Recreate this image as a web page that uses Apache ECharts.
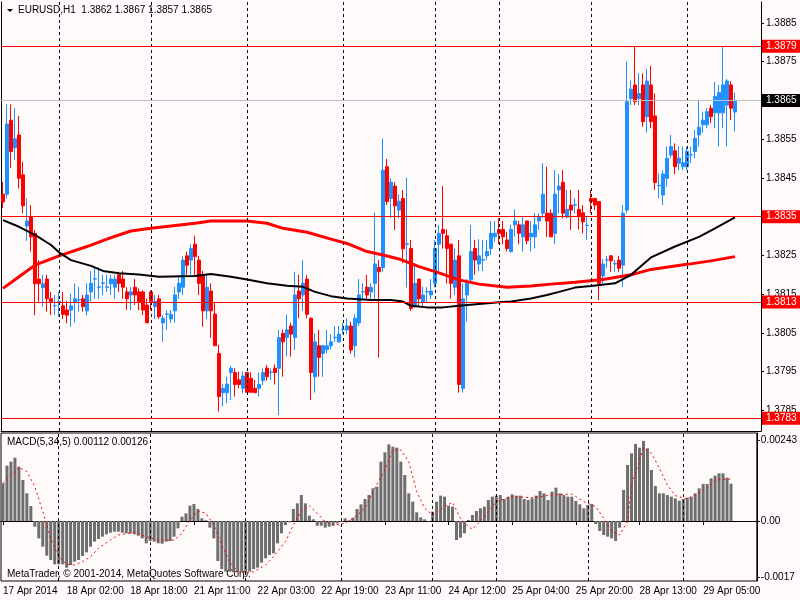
<!DOCTYPE html>
<html>
<head>
<meta charset="utf-8">
<script src="https://cdn.jsdelivr.net/npm/echarts@6/dist/echarts.min.js"></script>
<style>
html,body{margin:0;padding:0;background:#FFFAFA;}
#chart{width:800px;height:600px;}
</style>
</head>
<body>
<div id="chart"></div>
<script>
// EURUSD H1 bars, oldest first
var opens = [
1.38408,1.38408,1.38599,1.38528,1.38561,1.38458,1.38326,1.38349,1.38307,1.38189,
1.38167,1.38189,1.38138,1.38120,1.38130,1.38120,1.38109,1.38109,1.38129,1.38135,
1.38138,1.38107,1.38156,1.38189,1.38168,1.38178,1.38168,1.38177,1.38168,1.38200,
1.38189,1.38156,1.38148,1.38168,1.38156,1.38156,1.38122,1.38156,1.38118,1.38138,
1.38076,1.38098,1.38086,1.38107,1.38156,1.38168,1.38249,1.38238,1.38279,1.38238,
1.38200,1.38107,1.38158,1.38099,1.37997,1.37896,1.37896,1.37948,1.37948,1.37929,
1.37907,1.37948,1.37933,1.37907,1.37907,1.37927,1.37959,1.37948,1.37959,1.37959,
1.38049,1.38038,1.38068,1.38038,1.38158,1.38148,1.38189,1.38088,1.37937,1.38017,
1.37997,1.38007,1.38017,1.38038,1.38027,1.38058,1.38058,1.38068,1.38017,1.38076,
1.38156,1.38168,1.38156,1.38178,1.38219,1.38219,1.38479,1.38397,1.38429,1.38367,
1.38397,1.38279,1.38268,1.38118,1.38189,1.38129,1.38156,1.38148,1.38178,1.38279,
1.38317,1.38301,1.38279,1.38168,1.38249,1.37907,1.38148,1.38187,1.38268,1.38228,
1.38238,1.38249,1.38268,1.38298,1.38317,1.38317,1.38290,1.38260,1.38329,1.38329,
1.38298,1.38339,1.38298,1.38298,1.38339,1.38359,1.38359,1.38359,1.38307,1.38419,
1.38439,1.38349,1.38380,1.38380,1.38369,1.38360,1.38327,1.38397,1.38397,1.38389,
1.38197,1.38238,1.38249,1.38228,1.38238,1.38225,1.38367,1.38655,1.38690,1.38655,
1.38690,1.38608,1.38690,1.38610,1.38430,1.38406,1.38449,1.38509,1.38520,1.38488,
1.38479,1.38479,1.38509,1.38518,1.38561,1.38587,1.38587,1.38630,1.38618,1.38618,
1.38618,1.38638,1.38690,1.38620
];
var highs = [
1.38439,1.38640,1.38640,1.38630,1.38610,1.38492,1.38397,1.38380,1.38316,1.38238,
1.38200,1.38200,1.38156,1.38148,1.38156,1.38156,1.38133,1.38152,1.38178,1.38169,
1.38148,1.38178,1.38210,1.38217,1.38219,1.38200,1.38200,1.38200,1.38200,1.38208,
1.38210,1.38168,1.38168,1.38189,1.38165,1.38160,1.38139,1.38160,1.38148,1.38148,
1.38096,1.38109,1.38109,1.38169,1.38200,1.38249,1.38260,1.38279,1.38301,1.38249,
1.38210,1.38200,1.38178,1.38129,1.38019,1.37918,1.37937,1.37965,1.37959,1.37950,
1.37950,1.37950,1.37948,1.37929,1.37948,1.37959,1.37967,1.37959,1.37969,1.38058,
1.38058,1.38098,1.38076,1.38208,1.38200,1.38238,1.38200,1.38090,1.38049,1.38058,
1.38019,1.38058,1.38047,1.38068,1.38068,1.38076,1.38088,1.38079,1.38098,1.38189,
1.38178,1.38200,1.38178,1.38360,1.38238,1.38552,1.38499,1.38449,1.38439,1.38408,
1.38419,1.38451,1.38290,1.38230,1.38190,1.38169,1.38168,1.38189,1.38290,1.38329,
1.38429,1.38317,1.38280,1.38268,1.38290,1.38178,1.38189,1.38329,1.38290,1.38292,
1.38290,1.38290,1.38339,1.38339,1.38346,1.38339,1.38311,1.38329,1.38369,1.38339,
1.38349,1.38340,1.38339,1.38359,1.38359,1.38488,1.38479,1.38369,1.38470,1.38460,
1.38470,1.38419,1.38419,1.38397,1.38419,1.38380,1.38350,1.38419,1.38399,1.38390,
1.38240,1.38249,1.38250,1.38238,1.38249,1.38380,1.38750,1.38701,1.38790,1.38720,
1.38720,1.38731,1.38739,1.38668,1.38462,1.38470,1.38531,1.38561,1.38539,1.38531,
1.38531,1.38531,1.38531,1.38574,1.38649,1.38621,1.38630,1.38638,1.38698,1.38690,
1.38790,1.38705,1.38700,1.38670
];
var lows = [
1.38372,1.38397,1.38476,1.38496,1.38423,1.38359,1.38288,1.38260,1.38096,1.38131,
1.38118,1.38105,1.38096,1.38096,1.38092,1.38086,1.38075,1.38066,1.38077,1.38105,
1.38105,1.38096,1.38131,1.38138,1.38138,1.38148,1.38156,1.38148,1.38138,1.38156,
1.38138,1.38109,1.38109,1.38122,1.38109,1.38096,1.38076,1.38109,1.38086,1.38086,
1.38027,1.38058,1.38076,1.38076,1.38138,1.38148,1.38200,1.38200,1.38200,1.38148,
1.38066,1.38086,1.38038,1.38017,1.37847,1.37860,1.37869,1.37877,1.37886,1.37907,
1.37894,1.37897,1.37896,1.37896,1.37886,1.37916,1.37927,1.37929,1.37917,1.37838,
1.37937,1.37989,1.37989,1.38006,1.38088,1.38107,1.38088,1.37877,1.37896,1.37937,
1.37937,1.37997,1.38007,1.38027,1.38025,1.38047,1.38047,1.37997,1.37987,1.38068,
1.38138,1.38138,1.38138,1.38138,1.37987,1.38208,1.38380,1.38346,1.38316,1.38346,
1.38230,1.38167,1.38107,1.38115,1.38118,1.38118,1.38129,1.38138,1.38167,1.38210,
1.38268,1.38178,1.38138,1.38148,1.37896,1.37896,1.38079,1.38178,1.38200,1.38210,
1.38210,1.38238,1.38251,1.38285,1.38279,1.38279,1.38260,1.38258,1.38298,1.38279,
1.38260,1.38279,1.38260,1.38268,1.38316,1.38346,1.38298,1.38298,1.38279,1.38359,
1.38346,1.38346,1.38316,1.38359,1.38317,1.38307,1.38290,1.38359,1.38367,1.38135,
1.38178,1.38217,1.38208,1.38208,1.38208,1.38169,1.38359,1.38638,1.38638,1.38638,
1.38582,1.38567,1.38578,1.38419,1.38397,1.38380,1.38427,1.38501,1.38460,1.38470,
1.38470,1.38470,1.38488,1.38501,1.38531,1.38567,1.38578,1.38591,1.38578,1.38531,
1.38578,1.38531,1.38599,1.38570
];
var closes = [
1.38388,1.38589,1.38518,1.38551,1.38449,1.38378,1.38339,1.38298,1.38177,1.38177,
1.38177,1.38138,1.38131,1.38121,1.38131,1.38098,1.38096,1.38120,1.38138,1.38136,
1.38118,1.38148,1.38178,1.38190,1.38169,1.38179,1.38169,1.38189,1.38189,1.38178,
1.38168,1.38138,1.38156,1.38148,1.38131,1.38109,1.38076,1.38131,1.38131,1.38092,
1.38088,1.38099,1.38098,1.38148,1.38178,1.38238,1.38225,1.38268,1.38247,1.38178,
1.38107,1.38168,1.38107,1.38017,1.37886,1.37907,1.37918,1.37959,1.37917,1.37917,
1.37939,1.37897,1.37897,1.37896,1.37917,1.37948,1.37937,1.37949,1.37948,1.38038,
1.38027,1.38058,1.38047,1.38148,1.38138,1.38178,1.38098,1.37948,1.38027,1.37987,
1.38017,1.38017,1.38027,1.38039,1.38047,1.38059,1.38068,1.38006,1.38088,1.38148,
1.38157,1.38148,1.38168,1.38228,1.38208,1.38470,1.38389,1.38439,1.38378,1.38390,
1.38267,1.38280,1.38113,1.38178,1.38138,1.38148,1.38157,1.38158,1.38268,1.38307,
1.38307,1.38268,1.38178,1.38238,1.37917,1.38138,1.38178,1.38260,1.38238,1.38249,
1.38239,1.38260,1.38307,1.38307,1.38307,1.38298,1.38268,1.38317,1.38339,1.38307,
1.38329,1.38288,1.38307,1.38329,1.38349,1.38408,1.38339,1.38298,1.38408,1.38429,
1.38359,1.38369,1.38367,1.38381,1.38350,1.38337,1.38328,1.38389,1.38380,1.38178,
1.38228,1.38239,1.38236,1.38229,1.38217,1.38359,1.38647,1.38679,1.38647,1.38668,
1.38595,1.38700,1.38595,1.38438,1.38431,1.38460,1.38501,1.38531,1.38479,1.38501,
1.38489,1.38519,1.38510,1.38552,1.38581,1.38599,1.38621,1.38608,1.38660,1.38670,
1.38690,1.38700,1.38630,1.38650
];

// moving averages read at [bar, price]
var maRed = [
[0,1.38165],[4,1.38195],[8,1.38225],[14,1.38249],[21,1.38273],[27,1.38296],[32,1.38313],
[37,1.38320],[42,1.38326],[48,1.38333],[52,1.38339],[61,1.38339],[66,1.38333],[70,1.38320],
[76,1.38310],[82,1.38292],[86,1.38281],[91,1.38260],[95,1.38251],[99,1.38241],[104,1.38221],
[109,1.38205],[114,1.38187],[119,1.38176],[126,1.38168],[132,1.38171],[137,1.38176],
[143,1.38181],[150,1.38188],[157,1.38200],[162,1.38214],[171,1.38227],[177,1.38236],[183,1.38247]
];
var maBlack = [
[0,1.38341],[4,1.38324],[8,1.38303],[12,1.38277],[14,1.38258],[17,1.38238],[22,1.38223],
[25,1.38210],[29,1.38204],[34,1.38201],[39,1.38195],[48,1.38197],[52,1.38202],[57,1.38195],
[61,1.38188],[66,1.38178],[71,1.38172],[75,1.38169],[78,1.38156],[82,1.38145],[86,1.38139],
[92,1.38135],[97,1.38135],[100,1.38131],[102,1.38120],[106,1.38116],[110,1.38116],[114,1.38120],
[119,1.38125],[124,1.38129],[127,1.38131],[132,1.38139],[136,1.38148],[139,1.38156],
[143,1.38167],[147,1.38171],[153,1.38178],[157,1.38200],[162,1.38245],[168,1.38273],
[174,1.38298],[178,1.38320],[183,1.38348]
];

// MACD(5,34,5) histogram per bar
var macd = [
0.00113,0.00166,0.00178,0.00190,0.00163,0.00123,0.00083,0.00045,-0.00017,-0.00052,
-0.00077,-0.00104,-0.00117,-0.00130,-0.00130,-0.00130,-0.00140,-0.00132,-0.00122,-0.00117,
-0.00105,-0.00094,-0.00077,-0.00062,-0.00054,-0.00047,-0.00040,-0.00035,-0.00032,-0.00032,
-0.00035,-0.00037,-0.00038,-0.00040,-0.00044,-0.00052,-0.00067,-0.00060,-0.00062,-0.00067,
-0.00068,-0.00062,-0.00060,-0.00047,-0.00022,0.00013,0.00023,0.00046,0.00051,0.00036,
0.00008,0.00002,-0.00020,-0.00052,-0.00120,-0.00144,-0.00152,-0.00152,-0.00154,-0.00152,
-0.00154,-0.00152,-0.00152,-0.00144,-0.00140,-0.00125,-0.00112,-0.00102,-0.00097,-0.00067,
-0.00037,-0.00012,-0.00004,0.00036,0.00053,0.00078,0.00053,0.00016,0.00005,-0.00014,
-0.00014,-0.00020,-0.00017,-0.00014,-0.00007,-0.00002,0.00008,0.00002,0.00010,0.00036,
0.00050,0.00066,0.00078,0.00098,0.00103,0.00178,0.00206,0.00230,0.00223,0.00220,
0.00178,0.00138,0.00083,0.00058,0.00026,0.00011,0.00005,-0.00001,0.00028,0.00058,
0.00076,0.00073,0.00046,0.00043,-0.00057,-0.00050,-0.00037,0.00003,0.00018,0.00030,
0.00038,0.00043,0.00063,0.00073,0.00076,0.00078,0.00066,0.00073,0.00080,0.00076,
0.00076,0.00066,0.00063,0.00068,0.00076,0.00090,0.00083,0.00063,0.00088,0.00100,
0.00083,0.00078,0.00073,0.00073,0.00060,0.00050,0.00038,0.00048,0.00051,-0.00009,
-0.00030,-0.00042,-0.00047,-0.00052,-0.00060,-0.00020,0.00093,0.00168,0.00203,0.00231,
0.00220,0.00240,0.00218,0.00153,0.00105,0.00083,0.00083,0.00078,0.00073,0.00068,
0.00061,0.00066,0.00070,0.00073,0.00083,0.00098,0.00111,0.00111,0.00128,0.00136,
0.00143,0.00143,0.00130,0.00112
];
// signal line read at [bar, value]
var signal = [
[0,0.00113],[3,0.00148],[4,0.00161],[6,0.00148],[8,0.00103],[10,0.00028],[12,-0.00052],
[14,-0.00107],[16,-0.00130],[18,-0.00132],[20,-0.00122],[22,-0.00107],[24,-0.00082],
[27,-0.00057],[29,-0.00042],[33,-0.00034],[36,-0.00047],[39,-0.00057],[43,-0.00057],
[45,-0.00037],[47,0.00003],[49,0.00030],[51,0.00023],[53,-0.00012],[55,-0.00072],
[57,-0.00122],[59,-0.00152],[61,-0.00157],[63,-0.00152],[66,-0.00132],[68,-0.00107],
[71,-0.00062],[73,-0.00012],[75,0.00030],[77,0.00046],[79,0.00023],[81,-0.00002],
[83,-0.00012],[86,-0.00007],[88,0.00008],[91,0.00038],[93,0.00088],[96,0.00153],
[98,0.00213],[100,0.00213],[102,0.00178],[104,0.00088],[106,0.00038],[108,0.00018],
[111,0.00043],[113,0.00056],[115,0.00008],[117,-0.00017],[118,-0.00025],[121,0.00013],
[124,0.00058],[128,0.00073],[133,0.00070],[138,0.00078],[143,0.00081],[146,0.00058],
[149,0.00043],[151,0.00008],[153,-0.00030],[155,-0.00042],[157,-0.00002],[158,0.00108],
[161,0.00218],[163,0.00203],[165,0.00158],[167,0.00108],[169,0.00076],[172,0.00066],
[174,0.00078],[177,0.00098],[179,0.00123],[183,0.00126]
];

var slotCount = 190;
var tickLabels = [
[0,'17 Apr 2014'],[16,'18 Apr 02:00'],[32,'18 Apr 18:00'],[48,'21 Apr 11:00'],
[64,'22 Apr 03:00'],[80,'22 Apr 19:00'],[96,'23 Apr 11:00'],[112,'24 Apr 12:00'],
[128,'25 Apr 04:00'],[144,'25 Apr 20:00'],[160,'28 Apr 13:00'],[176,'29 Apr 05:00']
];
var daySeparators = [14,37,61,85,108,124,147,171];
var priceLevels = [1.3879,1.3835,1.3813,1.3783];
var bidPrice = 1.3865;
var priceTicks = [1.3785,1.3795,1.3805,1.3815,1.3825,1.3835,1.3845,1.3855,1.3865,1.3875,1.3885];
var macdTicks = [0.00243,0,-0.0017];
var macdTickText = ['0.00243','0.00','-0.0017'];

var FONT = "'Liberation Sans Narrow', 'Liberation Sans', sans-serif";
var FS = 10;

var cats = [];
for (var k = 0; k < slotCount; k++) cats.push(String(k));
var labelMap = {};
tickLabels.forEach(function(t){ labelMap[t[0]] = t[1]; });
function showTick(idx){ return labelMap.hasOwnProperty(idx); }

var candleData = opens.map(function(o, i){ return [o, closes[i], lows[i], highs[i]]; });
var n = opens.length - 1;

function sepLines(){
    return daySeparators.map(function(d){
        return {xAxis: d, lineStyle: {color: '#000', type: [3,3], width: 1}, label: {show: false}};
    });
}
function levelLine(p, lineColor, boxColor){
    return {yAxis: p, lineStyle: {color: lineColor, type: 'solid', width: 1},
        label: {show: true, position: 'end', distance: 1, formatter: p.toFixed(4),
            backgroundColor: boxColor, color: '#fff', padding: [2,4,1,4],
            fontFamily: FONT, fontSize: FS}};
}
var levelLines = [levelLine(bidPrice, '#C0C0C0', '#000')];
priceLevels.forEach(function(p){ levelLines.push(levelLine(p, '#FF0000', '#FF0000')); });

var chart = echarts.init(document.getElementById('chart'));
chart.setOption({
    animation: false,
    backgroundColor: '#FFFAFA',
    textStyle: {fontFamily: FONT},
    grid: [
        {left: 1, right: 39, top: 2, height: 429},
        {left: 1, right: 39, top: 433, height: 148, show: true, borderColor: '#000', borderWidth: 1, backgroundColor: 'transparent'}
    ],
    xAxis: [
        {type: 'category', gridIndex: 0, data: cats, boundaryGap: true,
            axisLine: {show: true, lineStyle: {color: '#000', width: 1}},
            axisTick: {show: false}, axisLabel: {show: false}, splitLine: {show: false}},
        {type: 'category', gridIndex: 1, data: cats, boundaryGap: true,
            axisLine: {show: true, lineStyle: {color: '#000', width: 1}},
            axisTick: {show: true, alignWithLabel: true, interval: showTick, length: 4, lineStyle: {color: '#000'}},
            axisLabel: {interval: showTick, formatter: function(v, idx){ return labelMap[idx] || ''; },
                align: 'left', margin: 5, color: '#000', fontSize: FS, fontFamily: FONT},
            splitLine: {show: false}}
    ],
    yAxis: [
        {type: 'value', gridIndex: 0, position: 'right', min: 1.37797, max: 1.38904, scale: true,
            axisLine: {show: true, lineStyle: {color: '#000'}},
            axisTick: {show: true, length: 3, customValues: priceTicks, lineStyle: {color: '#000'}},
            axisLabel: {customValues: priceTicks, formatter: function(v){ return v.toFixed(4); },
                color: '#000', fontSize: FS, fontFamily: FONT, margin: 5},
            splitLine: {show: false}},
        {type: 'value', gridIndex: 0, position: 'left', min: 0, max: 1,
            axisLine: {show: true, lineStyle: {color: '#000'}},
            axisTick: {show: false}, axisLabel: {show: false}, splitLine: {show: false}},
        {type: 'value', gridIndex: 1, position: 'right', min: -0.0018, max: 0.00264,
            axisLine: {show: true, lineStyle: {color: '#000'}},
            axisTick: {show: true, length: 3, customValues: macdTicks, lineStyle: {color: '#000'}},
            axisLabel: {customValues: macdTicks, formatter: function(v){
                    var j = macdTicks.indexOf(v); return j >= 0 ? macdTickText[j] : ''; },
                color: '#000', fontSize: FS, fontFamily: FONT, margin: 4},
            splitLine: {show: false}}
    ],
    graphic: [
        {type: 'polygon', shape: {points: [[7,9],[13,9],[10,12]]}, style: {fill: '#000'}},
        {type: 'text', left: 18, top: 5, style: {
            text: 'EURUSD,H1  ' + opens[n].toFixed(4) + ' ' + highs[n].toFixed(4) + ' ' + lows[n].toFixed(4) + ' ' + closes[n].toFixed(4),
            fill: '#000', font: FS + 'px ' + FONT}},
        {type: 'text', left: 7, top: 437, style: {
            text: 'MACD(5,34,5) ' + macd[n].toFixed(5) + ' ' + signal[signal.length - 1][1].toFixed(5),
            fill: '#000', font: FS + 'px ' + FONT}},
        {type: 'text', left: 7, top: 569, style: {
            text: 'MetaTrader, \u00a9 2001-2014, MetaQuotes Software Corp.',
            fill: '#000', font: FS + 'px ' + FONT}}
    ],
    series: [
        {type: 'candlestick', xAxisIndex: 0, yAxisIndex: 0, data: candleData, barWidth: 3,
            itemStyle: {color: '#1E90FF', color0: '#FF0000', borderColor: '#1E90FF', borderColor0: '#FF0000',
                borderColorDoji: '#1E90FF', borderWidth: 1},
            markLine: {silent: true, symbol: ['none', 'none'], animation: false, data: sepLines()}},
        {type: 'line', xAxisIndex: 0, yAxisIndex: 0, data: maRed, symbol: 'none', silent: true,
            lineStyle: {color: '#FF0000', width: 3},
            markLine: {silent: true, symbol: ['none', 'none'], animation: false, precision: 5, data: levelLines}},
        {type: 'line', xAxisIndex: 0, yAxisIndex: 0, data: maBlack, symbol: 'none', silent: true,
            lineStyle: {color: '#000', width: 2}},
        {type: 'bar', xAxisIndex: 1, yAxisIndex: 2, data: macd, barWidth: 3, silent: true,
            itemStyle: {color: '#6E6E6E'},
            markLine: {silent: true, symbol: ['none', 'none'], animation: false, data: sepLines()}},
        {type: 'line', xAxisIndex: 1, yAxisIndex: 2, data: signal, symbol: 'none', silent: true,
            lineStyle: {color: '#FF0000', width: 1, type: [2,3]}}
    ]
});
</script>
</body>
</html>
